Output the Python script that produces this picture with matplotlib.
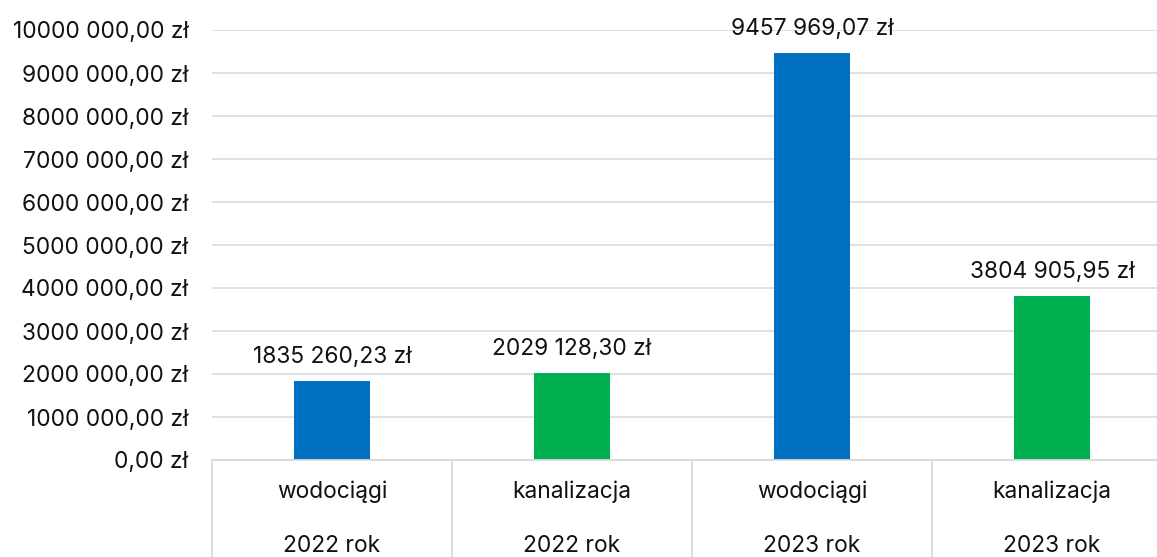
import matplotlib.pyplot as plt

categories = ["wodociągi", "kanalizacja", "wodociągi", "kanalizacja"]
years = ["2022 rok", "2022 rok", "2023 rok", "2023 rok"]
values = [1835260.23, 2029128.30, 9457969.07, 3804905.95]
colors = ["#0070C0", "#00B050", "#0070C0", "#00B050"]
yticks = list(range(0, 10000001, 1000000))

plt.rcParams['font.family'] = ['Inter', 'DejaVu Sans']
FS = 16.4


def zl(v):
    # polski format: przecinek dziesiętny, odstęp tylko przed ostatnią trójką cyfr
    s = f"{v:.2f}"
    whole, frac = s.split(".")
    if len(whole) > 3:
        whole = whole[:-3] + " " + whole[-3:]
    return f"{whole},{frac} zł"


W, H = 1157, 557
fig = plt.figure(figsize=(W / 100, H / 100), dpi=100)
ax = fig.add_axes([212 / W, (H - 460) / H, 960 / W, 430 / H])

x = range(len(values))
bars = ax.bar(x, values, width=0.317, color=colors, zorder=3)

for xi, v in zip(x, values):
    ax.annotate(zl(v), (xi, v), xytext=(0, 13), textcoords="offset points",
                ha="center", va="baseline", fontsize=FS, color="#111111")

ax.set_xlim(-0.5, 3.5)
ax.set_ylim(0, 10000000)
ax.set_yticks(yticks)
ax.set_yticklabels([zl(t) for t in yticks], fontsize=FS, color="#111111")
ax.tick_params(axis="y", length=0, pad=17)
ax.set_xticks([])
ax.grid(axis="y", color="#D9D9D9", linewidth=1.1, zorder=0)
for s in ax.spines.values():
    s.set_visible(False)

# dwupoziomowe etykiety osi kategorii z pionowymi separatorami
tr = ax.get_xaxis_transform()
ax.plot([-0.5, 3.5], [0, 0], transform=tr, color="#D9D9D9", lw=1.3,
        clip_on=False, zorder=4)
for b in [-0.5, 0.5, 1.5, 2.5, 3.5]:
    ax.plot([b, b], [0, -0.3], transform=tr, color="#D9D9D9", lw=1.3,
            clip_on=False)
for xi, (c, yr) in enumerate(zip(categories, years)):
    ax.text(xi, -32 / 430, c, transform=tr, ha="center", va="center",
            fontsize=FS, color="#111111")
    ax.text(xi, -86 / 430, yr, transform=tr, ha="center", va="center",
            fontsize=FS, color="#111111")

fig.savefig("out.png", dpi=100)
